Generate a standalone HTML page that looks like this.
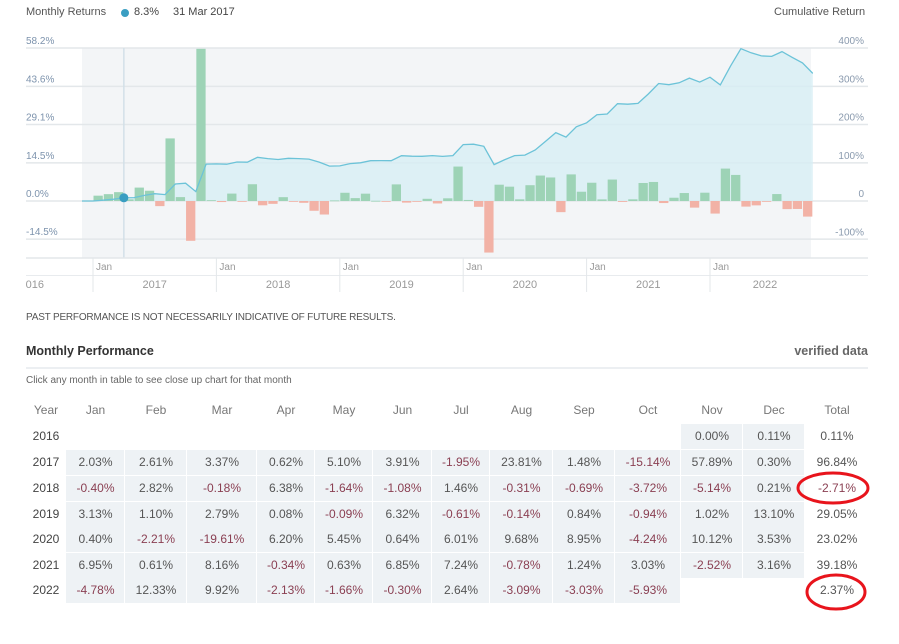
<!DOCTYPE html>
<html><head><meta charset="utf-8">
<style>
body{margin:0;background:#fff;width:899px;height:644px;overflow:hidden;font-family:"Liberation Sans",sans-serif;position:relative}
.t{position:absolute;white-space:nowrap}
</style></head>
<body>
<div class="t" style="left:26px;top:6px;font-size:11px;color:#555">Monthly Returns</div>
<div class="t" style="left:121px;top:9px;width:8px;height:8px;border-radius:50%;background:#3a9ec2"></div>
<div class="t" style="left:134px;top:6px;font-size:11px;color:#444">8.3%</div>
<div class="t" style="left:173px;top:6px;font-size:11px;color:#444">31 Mar 2017</div>
<div class="t" style="left:774px;top:6px;font-size:11px;color:#555">Cumulative Return</div>

<svg id="chart" width="899" height="300" style="position:absolute;left:0;top:0"></svg>

<div class="t" style="left:26px;top:312px;font-size:10px;color:#555;letter-spacing:-0.2px">PAST PERFORMANCE IS NOT NECESSARILY INDICATIVE OF FUTURE RESULTS.</div>
<div class="t" style="left:26px;top:344px;font-size:12.5px;font-weight:bold;color:#333">Monthly Performance</div>
<div class="t" style="right:31px;top:344px;font-size:12.5px;font-weight:bold;color:#666">verified data</div>
<div class="t" style="left:26px;top:367px;width:842px;height:2px;background:#eceff2"></div>
<div class="t" style="left:26px;top:375px;font-size:10px;color:#666">Click any month in table to see close up chart for that month</div>

<div id="table" style="position:absolute;left:0;top:0"></div>

<svg width="899" height="644" style="position:absolute;left:0;top:0;pointer-events:none">
<ellipse cx="833" cy="488" rx="35" ry="15" fill="none" stroke="#e8141c" stroke-width="3"/>
<ellipse cx="836" cy="592" rx="29" ry="17" fill="none" stroke="#e8141c" stroke-width="3"/>
</svg>

<script>
const years=["2016","2017","2018","2019","2020","2021","2022"];
const monthNames=["Jan","Feb","Mar","Apr","May","Jun","Jul","Aug","Sep","Oct","Nov","Dec"];
const r2016=[null,null,null,null,null,null,null,null,null,null,0.00,0.11];
const r2017=[2.03,2.61,3.37,0.62,5.10,3.91,-1.95,23.81,1.48,-15.14,57.89,0.30];
const r2018=[-0.40,2.82,-0.18,6.38,-1.64,-1.08,1.46,-0.31,-0.69,-3.72,-5.14,0.21];
const r2019=[3.13,1.10,2.79,0.08,-0.09,6.32,-0.61,-0.14,0.84,-0.94,1.02,13.10];
const r2020=[0.40,-2.21,-19.61,6.20,5.45,0.64,6.01,9.68,8.95,-4.24,10.12,3.53];
const r2021=[6.95,0.61,8.16,-0.34,0.63,6.85,7.24,-0.78,1.24,3.03,-2.52,3.16];
const r2022=[-4.78,12.33,9.92,-2.13,-1.66,-0.30,2.64,-3.09,-3.03,-5.93,null,null];
const totals=[0.11,96.84,-2.71,29.05,23.02,39.18,2.37];
const leftTicks=[58.2,43.6,29.1,14.5,0.0,-14.5];
const rightTicks=[400,300,200,100,0,-100];
const rightTickLabels=["400%","300%","200%","100%","0","-100%"];

const NS="http://www.w3.org/2000/svg";
const svg=document.getElementById('chart');
function el(tag,attrs,parent){const e=document.createElementNS(NS,tag);for(const k in attrs)e.setAttribute(k,attrs[k]);(parent||svg).appendChild(e);return e;}
const rows=[r2016,r2017,r2018,r2019,r2020,r2021,r2022];
const X0=93, MW=(710-93)/60, Y0=201, PXPCT=153/58.2, PXCUM=153/400;
const xM=i=>X0+i*MW;
const yL=v=>Y0-v*PXPCT;
const yR=v=>Y0-v*PXCUM;
const plotL=82, plotR=811, plotT=48, plotB=258;

el('rect',{x:plotL,y:plotT,width:plotR-plotL,height:plotB-plotT,fill:'#f3f5f7',});
leftTicks.forEach((v,i)=>{
  const g=el('line',{x1:26,x2:868,y1:yL(v),y2:yL(v),stroke:'#e3e7ea','stroke-width':1.5});
  
  
  const t=el('text',{x:26,y:yL(v)-4,'font-size':10,fill:'#7d93ad','font-family':'Liberation Sans'});
  t.textContent=v.toFixed(1)+'%';
  
  
});
rightTicks.forEach((v,i)=>{
  const t=el('text',{x:864,y:yR(v)-4,'font-size':10,fill:'#8a9aae','text-anchor':'end','font-family':'Liberation Sans'});
  t.textContent=rightTickLabels[i];
  
  
});
const series=[];
rows.forEach((r,yi)=>r.forEach((v,mi)=>{if(v!==null)series.push({i:(yi-1)*12+mi,v});}));
let c=1;const pts=[[xM(series[0].i),yR(0)]];const cumAt={};
series.forEach(s=>{c*=1+s.v/100;cumAt[s.i]=(c-1)*100;pts.push([xM(s.i+1),yR((c-1)*100)]);});
let d='M'+pts.map(p=>p[0].toFixed(1)+','+p[1].toFixed(1)).join('L');
const clip=el('clipPath',{id:'pc'});el('rect',{x:plotL,y:0,width:plotR-plotL+2,height:300},clip);
const area=el('path',{d:d+'L'+pts[pts.length-1][0]+','+Y0+'L'+pts[0][0]+','+Y0+'Z',fill:'#d6eef4','fill-opacity':0.75,'clip-path':'url(#pc)'});


series.forEach(s=>{
  const x=xM(s.i)+0.5, y=s.v>=0?yL(s.v):Y0, h=Math.max(0.8,Math.abs(yL(s.v)-Y0));
  const b=el('rect',{x:x,y:y,width:MW-1,height:h,fill:s.v>=0?'#9dd3b6':'#f2b2a6','clip-path':'url(#pc)'});
  
  
});
const line=el('path',{d:d,fill:'none',stroke:'#6cc3d8','stroke-width':1.3,'clip-path':'url(#pc)'});


const ch=el('line',{x1:xM(3),x2:xM(3),y1:plotT,y2:plotB,stroke:'#d3e0e8','stroke-width':1.5});


const dot=el('circle',{cx:xM(3),cy:yR(cumAt[2]),r:4.5,fill:'#3a9ec2'});


el('line',{x1:26,x2:868,y1:plotB,y2:plotB,stroke:'#e3e7ea','stroke-width':1.5});
el('line',{x1:26,x2:868,y1:275.5,y2:275.5,stroke:'#e8ebee','stroke-width':1});
for(let y=0;y<6;y++){
  const x=xM(y*12);
  el('line',{x1:x,x2:x,y1:plotB,y2:292,stroke:'#e3e7ea','stroke-width':1});
  const t=el('text',{x:x+3,y:270,'font-size':10,fill:'#999','font-family':'Liberation Sans'});t.textContent='Jan';
  
  
  const yt=el('text',{x:x+(y<5?MW*6:55),y:288,'font-size':11,fill:'#999','text-anchor':'middle','font-family':'Liberation Sans'});yt.textContent=years[y+1];
  
  
}
const y16=el('text',{x:44,y:288,'font-size':11,fill:'#999','text-anchor':'end','font-family':'Liberation Sans','clip-path':'url(#c16)'});y16.textContent='2016';
const c16=el('clipPath',{id:'c16'});el('rect',{x:26,y:270,width:40,height:30},c16);



const tb=document.getElementById('table');
const colB=[66,125,187,257,315,373,432,490,553,615,681,743,805];
const rowT=[424,450,476,502,527,553,578];
const RH=25.7;
function cell(txt,cx,cy,color,name,inter){
  const d=document.createElement('div');d.className='t';
  d.style.cssText=`left:${cx-40}px;width:80px;text-align:center;top:${cy-8}px;font-size:12px;color:${color}`;
  d.textContent=txt;
  
  
  tb.appendChild(d);
}
const hdr=["Year"].concat(monthNames).concat(["Total"]);
const hx=[46].concat(colB.slice(0,12).map((b,i)=>(b+colB[i+1])/2)).concat([837]);
hdr.forEach((h,i)=>cell(h,hx[i],411,'#777','table-header','false'));
rows.forEach((r,yi)=>{
  const cy=rowT[yi]+RH/2;
  cell(years[yi],hx[0],cy,'#444','year-label','false');
  r.forEach((v,mi)=>{
    if(v===null)return;
    const bg=document.createElement('div');bg.className='t';
    bg.style.cssText=`left:${colB[mi]}px;top:${rowT[yi]}px;width:${colB[mi+1]-colB[mi]-1}px;height:${RH-1}px;background:#eef2f5`;
    
    
    tb.appendChild(bg);
    cell(v.toFixed(2)+'%',hx[mi+1],cy,v<0?'#8a3f52':'#555','month-value','true');
  });
  const tv=totals[yi];
  cell(tv.toFixed(2)+'%',837,cy,tv<0?'#8a3f52':'#555','year-total','false');
});
</script>
</body></html>
